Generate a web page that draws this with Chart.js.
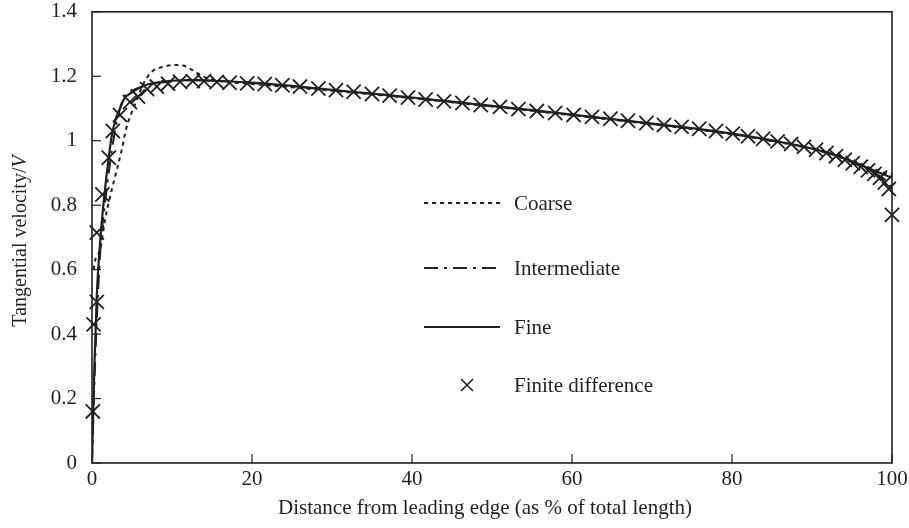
<!DOCTYPE html>
<html>
<head>
<meta charset="utf-8">
<script src="https://cdn.jsdelivr.net/npm/chart.js@4.4.1/dist/chart.umd.min.js"></script>
<style>
  html, body { margin: 0; padding: 0; background: #fff; }
  #wrap { width: 909px; height: 528px; position: relative; }
</style>
</head>
<body>
<div id="wrap"><canvas id="chart"></canvas></div>
<script>
// values
const fineX = [0, 0.3, 0.6, 1.0, 1.5, 2.0, 2.5, 3.0, 3.5, 4.0, 5.0, 6.0, 7.0, 8.5, 10, 12.5, 15, 20, 25, 30, 35, 40, 45, 50, 55, 60, 65, 70, 75, 80, 85, 90, 93, 95, 97, 98.5, 99.5, 100];
const fineY = [0, 0.30, 0.52, 0.68, 0.82, 0.93, 1.02, 1.07, 1.10, 1.13, 1.15, 1.165, 1.175, 1.182, 1.186, 1.188, 1.186, 1.18, 1.17, 1.158, 1.146, 1.134, 1.121, 1.108, 1.095, 1.081, 1.067, 1.053, 1.039, 1.022, 1.001, 0.976, 0.955, 0.936, 0.915, 0.90, 0.89, 0.885];

const interX = [0, 0.3, 0.7, 1.1, 1.6, 2.2, 2.8, 3.5, 4.3, 5.0, 6.0, 8.0, 10, 13, 16, 20, 30, 40, 50, 60, 70, 80, 85, 90, 93, 95, 97, 98.5, 99.5, 100];
const interY = [0, 0.25, 0.5, 0.68, 0.80, 0.92, 1.02, 1.10, 1.145, 1.155, 1.165, 1.178, 1.184, 1.188, 1.185, 1.179, 1.157, 1.133, 1.107, 1.08, 1.052, 1.021, 1.0, 0.975, 0.953, 0.933, 0.91, 0.89, 0.87, 0.85];

const coarseX = [0.2, 0.4, 1.0, 1.6, 2.2, 2.9, 3.7, 4.3, 5.0, 5.5, 6.3, 7.3, 9.0, 11, 12.5, 14, 16, 20, 30, 40, 50, 60, 70, 80, 85, 90, 93, 95, 97, 98.5, 100];
const coarseY = [0.6, 0.63, 0.66, 0.75, 0.82, 0.89, 0.97, 1.04, 1.09, 1.12, 1.17, 1.21, 1.23, 1.235, 1.22, 1.198, 1.185, 1.176, 1.155, 1.132, 1.106, 1.079, 1.051, 1.02, 0.999, 0.975, 0.955, 0.937, 0.918, 0.905, 0.895];

const fdX = [0.1, 0.2, 0.6, 0.6, 1.3, 2.1, 2.6, 3.5, 4.75, 5.75, 6.9, 8.1, 9.5, 11, 12.6, 14, 15.6, 17.2, 19.4, 21.6, 23.8, 26.0, 28.3, 30.5, 32.7, 35.0, 37.2, 39.5, 41.7, 44.0, 46.3, 48.6, 51.0, 53.3, 55.6, 57.9, 60.2, 62.5, 64.8, 67.0, 69.3, 71.5, 73.7, 75.9, 78.0, 80.1, 82.0, 83.9, 85.7, 87.4, 89.0, 90.5, 91.8, 93.0, 94.1, 95.1, 96.1, 97.0, 97.8, 98.5, 99.1, 99.6, 100];
const fdY = [0.16, 0.43, 0.50, 0.715, 0.833, 0.947, 1.03, 1.08, 1.12, 1.137, 1.16, 1.168, 1.177, 1.183, 1.185, 1.185, 1.182, 1.180, 1.178, 1.176, 1.172, 1.168, 1.162, 1.157, 1.152, 1.145, 1.140, 1.134, 1.128, 1.122, 1.117, 1.111, 1.105, 1.098, 1.092, 1.086, 1.080, 1.074, 1.068, 1.062, 1.055, 1.049, 1.043, 1.037, 1.030, 1.022, 1.014, 1.006, 0.998, 0.990, 0.981, 0.972, 0.962, 0.952, 0.941, 0.930, 0.919, 0.908, 0.897, 0.885, 0.870, 0.850, 0.770];

const xTicks = [0, 20, 40, 60, 80, 100];
const yTicks = [0, 0.2, 0.4, 0.6, 0.8, 1, 1.2, 1.4];

const INK = '#231f20';
const FONT = 'Liberation Serif';

const pts = (xs, ys) => xs.map((x, i) => ({ x: x, y: ys[i] }));

// fixed scale boxes, no extra label padding
function fixBox(s, size) {
    if (s.isHorizontal()) s.height = size; else s.width = size;
    s.paddingTop = 0; s.paddingBottom = 0; s.paddingLeft = 0; s.paddingRight = 0;
}

// full box with inward ticks, legend and both axis titles
const framePlugin = {
    id: 'frame',
    afterDraw(chart) {
        const { ctx, chartArea: a, scales } = chart;
        ctx.save();
        ctx.strokeStyle = INK;
        ctx.lineWidth = 1.6;
        ctx.setLineDash([]);
        ctx.strokeRect(a.left, a.top, a.right - a.left, a.bottom - a.top);

        ctx.lineWidth = 1.2;
        xTicks.forEach(v => {
            const px = scales.x.getPixelForValue(v);
            ctx.beginPath(); ctx.moveTo(px, a.bottom); ctx.lineTo(px, a.bottom - 9); ctx.stroke();
        });
        yTicks.forEach(v => {
            const py = scales.y.getPixelForValue(v);
            ctx.beginPath(); ctx.moveTo(a.left, py); ctx.lineTo(a.left + 9, py); ctx.stroke();
        });

        // legend
        const rows = [
            { label: 'Coarse', ds: 0, y: 203 },
            { label: 'Intermediate', ds: 1, y: 268 },
            { label: 'Fine', ds: 2, y: 327 },
            { label: 'Finite difference', ds: 3, y: 385 }
        ];
        ctx.font = '21px "' + FONT + '"';
        ctx.fillStyle = INK;
        ctx.textBaseline = 'middle';
        rows.forEach(r => {
            const ds = chart.data.datasets[r.ds];
            if (r.ds < 3) {
                ctx.lineWidth = ds.borderWidth;
                ctx.setLineDash(ds.borderDash || []);
                ctx.beginPath(); ctx.moveTo(424, r.y); ctx.lineTo(500, r.y); ctx.stroke();
                ctx.setLineDash([]);
            } else {
                ctx.lineWidth = 1.6;
                const c = 6;
                ctx.beginPath();
                ctx.moveTo(467 - c, r.y - c); ctx.lineTo(467 + c, r.y + c);
                ctx.moveTo(467 + c, r.y - c); ctx.lineTo(467 - c, r.y + c);
                ctx.stroke();
            }
            ctx.fillText(r.label, 514, r.y + 1);
        });

        // x title, sits a little left of the plot centre in the original
        ctx.textAlign = 'center';
        ctx.fillText('Distance from leading edge (as % of total length)', 485, 508);

        // y title with italic V
        ctx.translate(21, 241);
        ctx.rotate(-Math.PI / 2);
        ctx.textBaseline = 'middle';
        const t1 = 'Tangential velocity/';
        ctx.font = '20px "' + FONT + '"';
        const w1 = ctx.measureText(t1).width;
        ctx.font = 'italic 20px "' + FONT + '"';
        const w2 = ctx.measureText('V').width;
        let sx = -(w1 + w2) / 2;
        ctx.font = '20px "' + FONT + '"';
        ctx.textAlign = 'left';
        ctx.fillText(t1, sx, 0);
        ctx.font = 'italic 20px "' + FONT + '"';
        ctx.fillText('V', sx + w1, 0);
        ctx.restore();
    }
};

new Chart(document.getElementById('chart'), {
    type: 'scatter',
    data: {
        datasets: [
            {
                label: 'Coarse',
                data: pts(coarseX, coarseY),
                showLine: true,
                borderColor: INK,
                borderWidth: 2,
                borderDash: [4, 4],
                pointRadius: 0,
                cubicInterpolationMode: 'monotone'
            },
            {
                label: 'Intermediate',
                data: pts(interX, interY),
                showLine: true,
                borderColor: INK,
                borderWidth: 2,
                borderDash: [14, 6, 3, 6],
                pointRadius: 0,
                cubicInterpolationMode: 'monotone'
            },
            {
                label: 'Fine',
                data: pts(fineX, fineY),
                showLine: true,
                borderColor: INK,
                borderWidth: 2.2,
                pointRadius: 0,
                cubicInterpolationMode: 'monotone'
            },
            {
                label: 'Finite difference',
                data: pts(fdX, fdY),
                showLine: false,
                clip: false,
                pointStyle: 'crossRot',
                pointRadius: 10,
                borderColor: INK,
                borderWidth: 1.8
            }
        ]
    },
    options: {
        responsive: true,
        maintainAspectRatio: false,
        animation: false,
        layout: { padding: { left: 0, right: 17, top: 10, bottom: 0 } },
        plugins: {
            legend: { display: false },
            tooltip: { enabled: false }
        },
        scales: {
            x: {
                type: 'linear',
                min: 0, max: 100,
                afterFit: s => fixBox(s, 65),
                afterBuildTicks: s => { s.ticks = xTicks.map(v => ({ value: v })); },
                grid: { display: false, drawTicks: false },
                border: { display: false },
                ticks: {
                    color: INK, padding: 4, maxRotation: 0,
                    font: { family: FONT, size: 21 },
                    callback: v => String(+Number(v).toFixed(1))
                }
            },
            y: {
                type: 'linear',
                min: 0, max: 1.4,
                afterFit: s => fixBox(s, 92),
                afterBuildTicks: s => { s.ticks = yTicks.map(v => ({ value: v })); },
                grid: { display: false, drawTicks: false },
                border: { display: false },
                ticks: {
                    color: INK, padding: 15,
                    font: { family: FONT, size: 21 },
                    callback: v => String(+Number(v).toFixed(1))
                }
            }
        }
    },
    plugins: [framePlugin]
});
</script>
</body>
</html>
